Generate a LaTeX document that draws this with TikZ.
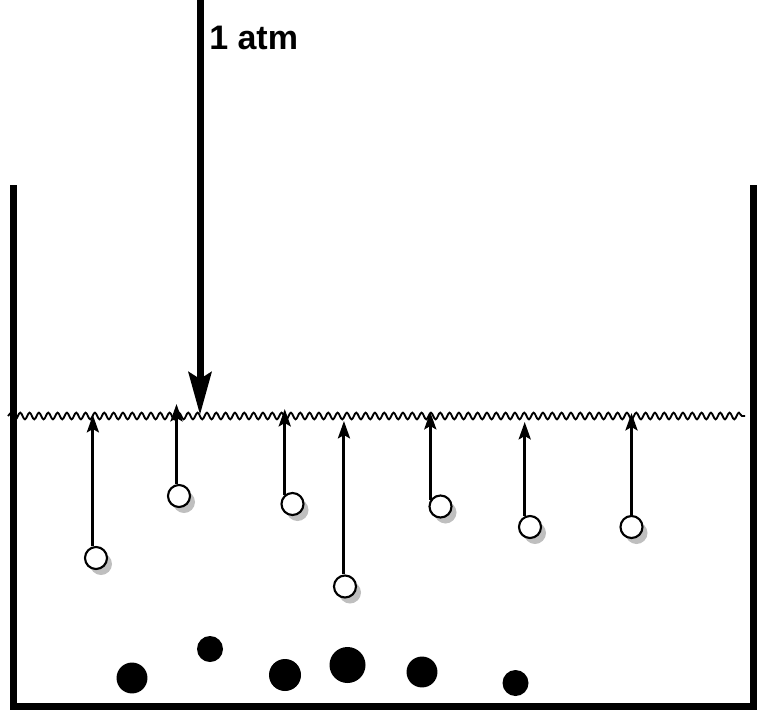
\documentclass[tikz,border=0pt]{standalone}
\usepackage{fontspec}
\setmainfont{Liberation Sans}
\usepackage{tikz}
\usetikzlibrary{arrows.meta}
\usetikzlibrary{decorations.pathmorphing}
\usetikzlibrary{shadows}

\tikzset{
  bubble/.style={circle, draw, line width=1.6pt, fill=white, minimum size=16.5pt, inner sep=0pt,
    drop shadow={shadow xshift=3.75pt, shadow yshift=-4.5pt, fill=black!25, opacity=1}},
  rise/.style={line width=2.2pt, -{Stealth[length=13pt, width=9pt, inset=2.5pt]}},
}

\begin{document}
\begin{tikzpicture}[x=0.75pt, y=-0.75pt]
        \useasboundingbox (0,0) rectangle (757,714);
        % beaker
        \draw[line width=5.25pt] (13.5,185) -- (13.5,706) -- (753,706) -- (753,185);
        % surface of the liquid
        \draw[line width=1.4pt, decorate, decoration={snake, segment length=7pt, amplitude=2.5pt}] (8,416) -- (745,416);
        % outside pressure
        \coordinate (p0) at (200,0);
        \coordinate (p1) at (200,415);
        \draw[line width=5.25pt, -{Stealth[length=32pt, width=17pt, inset=5pt]}] (p0) -- (p1);
        \node[anchor=base west, font=\bfseries\fontsize{25.5}{30}\selectfont, inner sep=0pt] (atm) at (209,49) {1 atm};
        % bubbles
        \node[bubble] (b1) at (96,558) {};
        \node[bubble] (b2) at (179,496) {};
        \node[bubble] (b3) at (292.5,504) {};
        \node[bubble] (b4) at (345,586.5) {};
        \node[bubble] (b5) at (440.5,506.5) {};
        \node[bubble] (b6) at (530,527) {};
        \node[bubble] (b7) at (631.5,527) {};
        \coordinate (t1) at (93,415);
        \coordinate (t2) at (177,404);
        \coordinate (t3) at (285,409);
        \coordinate (t4) at (344,421);
        \coordinate (t5) at (430,412);
        \coordinate (t6) at (525,422);
        \coordinate (t7) at (631,413);
        \draw[rise] (b1.105) -- (b1.105 |- t1);
        \draw[rise] (b2.102) -- (b2.102 |- t2);
        \draw[rise] (b3.130) -- (b3.130 |- t3);
        \draw[rise] (b4.95) -- (b4.95 |- t4);
        \draw[rise] (b5.148) -- (b5.148 |- t5);
        \draw[rise] (b6.116) -- (b6.116 |- t6);
        \draw[rise] (b7.90) -- (b7.90 |- t7);
        % solid particles
        \fill (132,678) circle[radius=11.6pt];
        \fill (210,649) circle[radius=9.75pt];
        \fill (285,675) circle[radius=12pt];
        \fill (347.5,665) circle[radius=13.5pt];
        \fill (422,672) circle[radius=11.6pt];
        \fill (515.5,683) circle[radius=9.75pt];
\end{tikzpicture}
\end{document}
